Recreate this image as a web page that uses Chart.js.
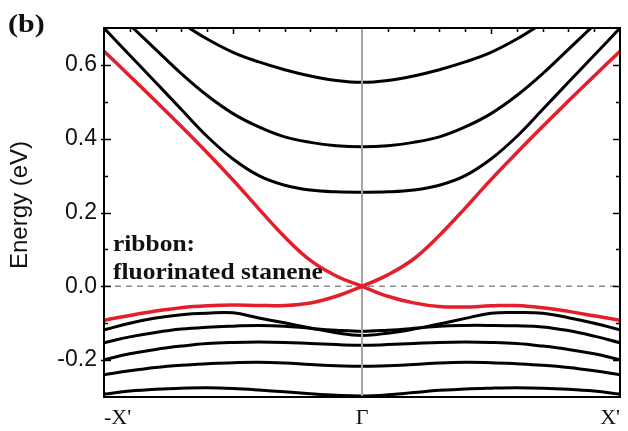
<!DOCTYPE html>
<html><head><meta charset="utf-8">
<script src="https://cdn.jsdelivr.net/npm/chart.js@4.4.1/dist/chart.umd.min.js"></script>
<style>html,body{margin:0;padding:0;background:#fff}#wrap{width:628px;height:431px}</style>
</head><body><div id="wrap"><canvas id="c" width="628" height="431"></canvas></div>
<script>
// k-path (from -X' through Gamma to X')
const kPoints = [-1.0,-0.9,-0.8,-0.7,-0.6,-0.5,-0.4,-0.3,-0.2,-0.1,0.0,0.1,0.2,0.3,0.4,0.5,0.6,0.7,0.8,0.9,1.0];
// conduction bands (black)
const cond1 = [0.700,0.626,0.553,0.479,0.406,0.345,0.300,0.274,0.261,0.256,0.255,0.256,0.261,0.274,0.300,0.345,0.406,0.479,0.553,0.626,0.700];
const cond2 = [0.770,0.708,0.642,0.576,0.517,0.468,0.432,0.405,0.390,0.381,0.378,0.381,0.390,0.405,0.432,0.468,0.517,0.576,0.642,0.708,0.770];
const cond3 = [0.850,0.805,0.760,0.714,0.670,0.634,0.608,0.587,0.570,0.558,0.553,0.558,0.570,0.587,0.608,0.634,0.670,0.714,0.760,0.805,0.850];
// edge states (red)
const edgeA = [0.637,0.570,0.502,0.433,0.362,0.288,0.210,0.134,0.070,0.028,0.000,-0.027,-0.045,-0.055,-0.056,-0.053,-0.052,-0.058,-0.068,-0.080,-0.092];
const edgeB = [-0.092,-0.079,-0.067,-0.058,-0.053,-0.051,-0.052,-0.052,-0.045,-0.027,0.000,0.031,0.074,0.138,0.212,0.289,0.362,0.433,0.502,0.570,0.637];
// valence bands (black)
const val1 = [-0.118,-0.100,-0.086,-0.077,-0.073,-0.072,-0.086,-0.099,-0.113,-0.126,-0.133,-0.127,-0.116,-0.102,-0.087,-0.073,-0.071,-0.073,-0.085,-0.100,-0.118];
const val2 = [-0.153,-0.137,-0.125,-0.116,-0.111,-0.108,-0.106,-0.108,-0.114,-0.119,-0.122,-0.119,-0.114,-0.108,-0.106,-0.106,-0.107,-0.110,-0.120,-0.135,-0.153];
const val3 = [-0.199,-0.183,-0.171,-0.162,-0.155,-0.152,-0.151,-0.152,-0.155,-0.158,-0.160,-0.158,-0.155,-0.152,-0.151,-0.152,-0.155,-0.162,-0.171,-0.183,-0.199];
const val4 = [-0.240,-0.229,-0.220,-0.214,-0.210,-0.207,-0.206,-0.208,-0.212,-0.215,-0.217,-0.215,-0.212,-0.208,-0.206,-0.207,-0.210,-0.214,-0.220,-0.229,-0.240];
const val5 = [-0.292,-0.284,-0.279,-0.276,-0.275,-0.277,-0.281,-0.286,-0.291,-0.295,-0.297,-0.294,-0.288,-0.282,-0.278,-0.276,-0.275,-0.276,-0.279,-0.284,-0.292];
// reference lines
const gammaLineX = [0, 0];
const gammaLineY = [-0.3, 0.7];
const fermiLineX = [-1, 1];
const fermiLineY = [0, 0];
// ticks and labels
const xTickValues = [-1, 0, 1];
const xTickLabels = ["-X'", "\u0393", "X'"];
const yTickValues = [-0.2, 0.0, 0.2, 0.4, 0.6];
const yMinorTicks = [-0.1, 0.1, 0.3, 0.5];
const topMajorTicks = [-0.5, 0.5];
const topMinorTicks = [-0.9,-0.8,-0.7,-0.6,-0.4,-0.3,-0.2,-0.1,0.1,0.2,0.3,0.4,0.6,0.7,0.8,0.9];
const panelLabel = "(b)";
const yTitle = "Energy (eV)";
const annotationLines = ["ribbon:", "fluorinated stanene"];

const RED = '#e41f2b';
const toXY = (xs, ys) => xs.map((x, i) => ({x: x, y: ys[i]}));
const band = (ys, color, w, order) => ({
  data: toXY(kPoints, ys), borderColor: color, borderWidth: w, pointRadius: 0,
  tension: 0.4, fill: false, order: order
});

const datasets = [
  band(edgeA, RED, 3.5, 0),
  band(edgeB, RED, 3.5, 0),
  {data: toXY(gammaLineX, gammaLineY), borderColor: '#a3a3a3', borderWidth: 2, pointRadius: 0, fill: false, order: 1},
  band(cond1, '#000', 3, 2), band(cond2, '#000', 3, 2), band(cond3, '#000', 3, 2),
  band(val1, '#000', 3, 2), band(val2, '#000', 3, 2), band(val3, '#000', 3, 2),
  band(val4, '#000', 3, 2), band(val5, '#000', 3, 2),
  {data: toXY(fermiLineX, fermiLineY), borderColor: '#8c8c8c', borderWidth: 1.5, borderDash: [6, 5], pointRadius: 0, fill: false, order: 3}
];

const framePlugin = {
  id: 'frame',
  afterDatasetsDraw(chart) {
    const {ctx, chartArea: a, scales: {x, y}} = chart;
    ctx.save();
    ctx.strokeStyle = '#000';
    ctx.lineWidth = 2;
    ctx.strokeRect(a.left, a.top, a.right - a.left, a.bottom - a.top);
    ctx.lineWidth = 1.5;
    ctx.beginPath();
    yTickValues.forEach(v => {
      const p = Math.round(y.getPixelForValue(v)) + 0.5;
      ctx.moveTo(a.left - 3, p); ctx.lineTo(a.left + 7, p);
      ctx.moveTo(a.right, p); ctx.lineTo(a.right - 7, p);
    });
    yMinorTicks.forEach(v => {
      const p = Math.round(y.getPixelForValue(v)) + 0.5;
      ctx.moveTo(a.left, p); ctx.lineTo(a.left + 4, p);
      ctx.moveTo(a.right, p); ctx.lineTo(a.right - 4, p);
    });
    topMajorTicks.forEach(v => {
      const p = Math.round(x.getPixelForValue(v)) + 0.5;
      ctx.moveTo(p, a.top); ctx.lineTo(p, a.top + 6);
    });
    topMinorTicks.forEach(v => {
      const p = Math.round(x.getPixelForValue(v)) + 0.5;
      ctx.moveTo(p, a.top); ctx.lineTo(p, a.top + 4);
    });
    ctx.stroke();
    ctx.restore();
  }
};

const textPlugin = {
  id: 'texts',
  afterDraw(chart) {
    const {ctx} = chart;
    ctx.save();
    ctx.fillStyle = '#111';
    // panel label
    ctx.font = 'bold 25px "Liberation Serif", "Times New Roman", serif';
    ctx.textBaseline = 'alphabetic';
    ctx.save(); ctx.translate(8, 32); ctx.scale(1.2, 1); ctx.fillText(panelLabel, 0, 0); ctx.restore();
    // y axis title
    ctx.font = '24px "Liberation Sans", Arial, sans-serif';
    ctx.textAlign = 'center'; ctx.textBaseline = 'middle';
    ctx.save(); ctx.translate(20, 205); ctx.rotate(-Math.PI / 2); ctx.fillText(yTitle, 0, 0); ctx.restore();
    // annotation
    ctx.font = 'bold 24px "Liberation Serif", "Times New Roman", serif';
    ctx.textAlign = 'left'; ctx.textBaseline = 'alphabetic';
    ctx.save(); ctx.translate(113, 251); ctx.scale(1.06, 1); ctx.fillText(annotationLines[0], 0, 0); ctx.restore();
    ctx.save(); ctx.translate(113, 279); ctx.scale(1.06, 1); ctx.fillText(annotationLines[1], 0, 0); ctx.restore();
    ctx.restore();
  }
};

new Chart(document.getElementById('c'), {
  type: 'line',
  data: {datasets},
  options: {
    responsive: false, animation: false, devicePixelRatio: 1,
    layout: {padding: {top: 28, right: 3, left: 0, bottom: 0}},
    plugins: {legend: {display: false}, tooltip: {enabled: false}},
    elements: {line: {borderCapStyle: 'butt', borderJoinStyle: 'round'}},
    scales: {
      x: {
        type: 'linear', min: -1, max: 1,
        grid: {display: false, drawTicks: false}, border: {display: false},
        afterFit: s => { s.height = 34; },
        afterBuildTicks: s => { s.ticks = xTickValues.map(v => ({value: v})); },
        ticks: {align: 'inner', maxRotation: 0, autoSkip: false, padding: 8, color: '#111',
          font: {family: '"Liberation Serif", "Times New Roman", serif', size: 22},
          callback: (v, i) => xTickLabels[i]}
      },
      y: {
        type: 'linear', min: -0.3, max: 0.7,
        grid: {display: false, drawTicks: false}, border: {display: false},
        afterFit: s => { s.width = 104; },
        afterBuildTicks: s => { s.ticks = yTickValues.map(v => ({value: v})); },
        ticks: {padding: 7, color: '#111',
          font: {family: '"Liberation Sans", Arial, sans-serif', size: 23},
          callback: v => Number(v).toFixed(1)}
      }
    }
  },
  plugins: [framePlugin, textPlugin]
});
</script></body></html>
